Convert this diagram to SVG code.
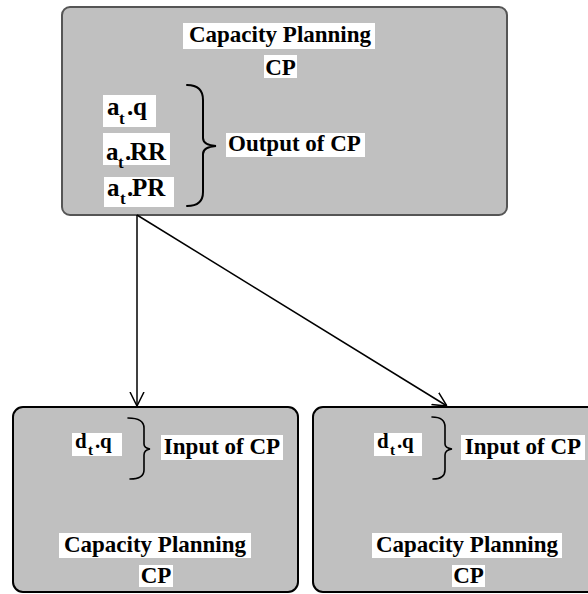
<svg xmlns="http://www.w3.org/2000/svg" width="588" height="594" viewBox="0 0 588 594">
  <style>
    .box { fill: #c0c0c0; }
    .top { stroke: #555555; stroke-width: 2; }
    .bot { stroke: #000000; stroke-width: 2; }
    .lbl { fill: #ffffff; }
    .t { font-family: 'Liberation Serif', 'DejaVu Serif', serif; font-weight: bold; font-size: 23px; fill: #000000; }
    .tm { text-anchor: middle; }
    .sub { font-size: 17px; }
    .brace { fill: none; stroke: #000000; stroke-width: 2; stroke-linecap: round; }
    .conn { stroke: #000000; stroke-width: 1.5; fill: none; }
  </style>
  <defs>
    <marker id="vhead" viewBox="0 0 14 16" refX="14" refY="8" markerWidth="14" markerHeight="16" markerUnits="userSpaceOnUse" orient="auto">
      <path d="M0,1 L14,8 L0,15" fill="none" stroke="#000000" stroke-width="1.5"/>
    </marker>
  </defs>

  <rect width="588" height="594" fill="#ffffff"/>

  <!-- upper capacity-planning node -->
  <g id="cp-main">
    <rect class="box top" x="62" y="7" width="445" height="208" rx="8"/>
    <rect class="lbl" x="183" y="23" width="192" height="26"/>
    <text class="t tm" x="280" y="42" font-family="Liberation Serif, serif">Capacity Planning</text>
    <rect class="lbl" x="264" y="55" width="33" height="23"/>
    <text class="t tm" x="280.5" y="75" font-family="Liberation Serif, serif">CP</text>

    <rect class="lbl" x="103" y="95" width="53" height="32"/>
    <text class="t" y="115" style="font-size:25px" font-family="Liberation Serif, serif"><tspan x="107">a</tspan><tspan class="sub" x="119" y="124">t</tspan><tspan x="127" y="115">.</tspan><tspan x="133">q</tspan></text>
    <rect class="lbl" x="103" y="133" width="67" height="32"/>
    <text class="t" y="160" style="font-size:25px" font-family="Liberation Serif, serif"><tspan x="106">a</tspan><tspan class="sub" x="118" y="168">t</tspan><tspan x="125" y="160">.</tspan><tspan x="130">RR</tspan></text>
    <rect class="lbl" x="104" y="177" width="70" height="30"/>
    <text class="t" y="196" style="font-size:25px" font-family="Liberation Serif, serif"><tspan x="107">a</tspan><tspan class="sub" x="120" y="204">t</tspan><tspan x="127" y="196">.</tspan><tspan x="132">PR</tspan></text>

    <path class="brace" d="M187,85 Q203,85 203,100 L203,138 Q203,145 216,146 Q203,147 203,154 L203,192 Q203,206 187,206"/>
    <rect class="lbl" x="226" y="133" width="139" height="24"/>
    <text class="t" x="228" y="151" font-family="Liberation Serif, serif">Output of CP</text>
  </g>

  <!-- lower left node -->
  <g id="cp-left">
    <rect class="box bot" x="13" y="407" width="285" height="185" rx="10"/>
    <rect class="lbl" x="72" y="433" width="50" height="23"/>
    <text class="t" style="font-size:21px" y="448" font-family="Liberation Serif, serif"><tspan x="75">d</tspan><tspan class="sub" style="font-size:15px" x="88" y="455">t</tspan><tspan x="95" y="448">.</tspan><tspan x="100">q</tspan></text>
    <path class="brace" style="stroke-width:1.6" d="M128,418 Q144,418 144,428 L144,444 Q144,448 150,449 Q144,450 144,455 L144,470 Q144,479 130,479"/>
    <rect class="lbl" x="161" y="435" width="122" height="25"/>
    <text class="t tm" x="222" y="454" font-family="Liberation Serif, serif">Input of CP</text>
    <rect class="lbl" x="59" y="533" width="192" height="25"/>
    <text class="t tm" x="155" y="552" font-family="Liberation Serif, serif">Capacity Planning</text>
    <rect class="lbl" x="139" y="565" width="34" height="22"/>
    <text class="t tm" x="156" y="583" font-family="Liberation Serif, serif">CP</text>
  </g>

  <!-- lower right node -->
  <g id="cp-right">
    <rect class="box bot" x="313" y="407" width="290" height="185" rx="10"/>
    <rect class="lbl" x="374" y="433" width="48" height="23"/>
    <text class="t" style="font-size:21px" y="448" font-family="Liberation Serif, serif"><tspan x="377">d</tspan><tspan class="sub" style="font-size:15px" x="390" y="455">t</tspan><tspan x="397" y="448">.</tspan><tspan x="402">q</tspan></text>
    <path class="brace" style="stroke-width:1.6" d="M432,417 Q445,417 445,427 L445,444 Q445,448 452,449 Q445,450 445,455 L445,470 Q445,479 433,479"/>
    <rect class="lbl" x="461" y="435" width="124" height="25"/>
    <text class="t tm" x="523" y="454" font-family="Liberation Serif, serif">Input of CP</text>
    <rect class="lbl" x="372" y="533" width="190" height="25"/>
    <text class="t tm" x="467" y="552" font-family="Liberation Serif, serif">Capacity Planning</text>
    <rect class="lbl" x="452" y="565" width="33" height="22"/>
    <text class="t tm" x="468.5" y="583" font-family="Liberation Serif, serif">CP</text>
  </g>

  <!-- connectors -->
  <g id="connectors">
    <line class="conn" x1="137" y1="215" x2="137" y2="406" marker-end="url(#vhead)"/>
    <line class="conn" x1="137" y1="215" x2="447" y2="406" marker-end="url(#vhead)"/>
  </g>
</svg>
